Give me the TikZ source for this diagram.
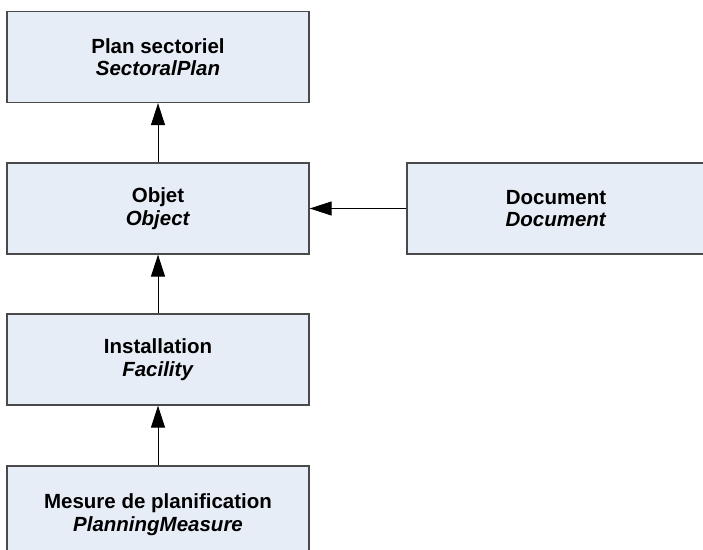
\documentclass[tikz,border=0pt]{standalone}
\usepackage{fontspec}
\setmainfont{Liberation Sans}
\usetikzlibrary{arrows.meta}
\definecolor{boxfill}{HTML}{E7EDF7}
\definecolor{boxline}{HTML}{4A4A4A}
\tikzset{
  classbox/.style={draw=boxline, line width=1.3pt, fill=boxfill, minimum width=302pt,
    minimum height=91pt, inner sep=0pt, align=center,
    font=\fontsize{20.5}{22.5}\selectfont},
  genarrow/.style={line width=1pt, -{Triangle[length=22pt,width=14pt]}}
}
\begin{document}
\begin{tikzpicture}[x=1pt,y=-1pt]
\useasboundingbox (0,0) rectangle (703,549);
\node[classbox] (plan) at (158,57) {\textbf{Plan sectoriel}\\\textbf{\textit{SectoralPlan}}};
\node[classbox] (objet) at (158,208.5) {\textbf{Objet}\\\textbf{\textit{Object}}};
\node[classbox, minimum width=298pt] (doc) at (556,208.5) {\textbf{Document}\\\textbf{\textit{Document}}};
\node[classbox] (inst) at (158,359.5) {\textbf{Installation}\\\textbf{\textit{Facility}}};
\node[classbox, minimum height=97pt] (mesure) at (158,514.5) {\textbf{Mesure de planification}\\\textbf{\textit{PlanningMeasure}}};
\draw[genarrow] (objet.north) -- (plan.south);
\draw[genarrow] (inst.north) -- (objet.south);
\draw[genarrow] (mesure.north) -- (inst.south);
\draw[genarrow] (doc.west) -- (objet.east);
\end{tikzpicture}
\end{document}
